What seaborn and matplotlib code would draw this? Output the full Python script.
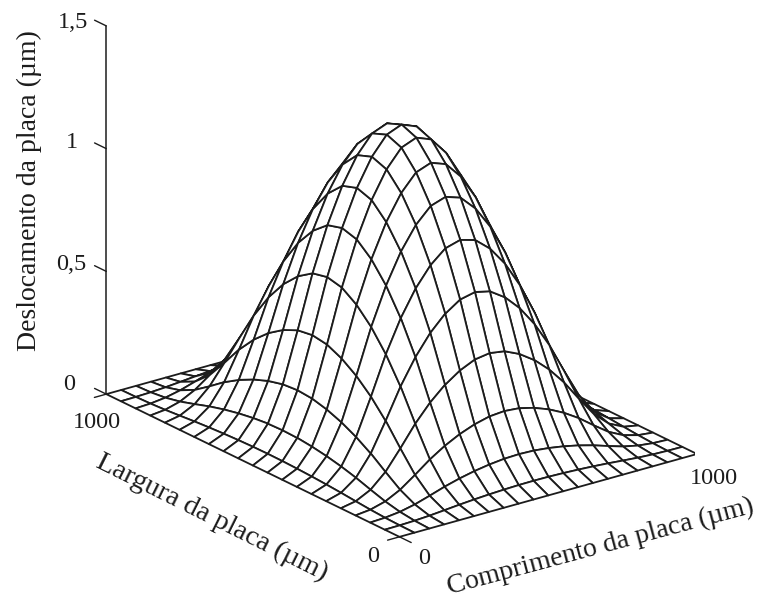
import numpy as np
import seaborn as sns
import matplotlib.pyplot as plt

# plate grid, 21 lines per side
comprimento = [0, 50, 100, 150, 200, 250, 300, 350, 400, 450, 500, 550, 600, 650, 700, 750, 800, 850, 900, 950, 1000]
largura = [0, 50, 100, 150, 200, 250, 300, 350, 400, 450, 500, 550, 600, 650, 700, 750, 800, 850, 900, 950, 1000]

# displacement profile read from the arc tops, relative to the peak
perfil_comprimento = [0, 0.025, 0.09, 0.21, 0.38, 0.56, 0.71, 0.83, 0.92, 0.98, 1, 0.98, 0.92, 0.83, 0.71, 0.56, 0.38, 0.21, 0.09, 0.025, 0]
perfil_largura = [0, 0.025, 0.09, 0.21, 0.38, 0.56, 0.71, 0.83, 0.92, 0.98, 1, 0.98, 0.92, 0.83, 0.71, 0.56, 0.38, 0.21, 0.09, 0.025, 0]
pico = 1.22

z_ticks = [0, 0.5, 1, 1.5]
z_labels = ["0", "0,5", "1", "1,5"]

sns.set_theme(style="white")
plt.rcParams['font.family'] = ['Liberation Serif', 'DejaVu Serif']

W, H = 763, 603
fig = plt.figure(figsize=(W / 100, H / 100), dpi=100)
ax = fig.add_axes([92 / W, 53.4 / H, 603 / W, 1.0], projection='3d', proj_type='ortho')
ax.set_box_aspect((373, 486, 396), zoom=1.1745)
ax.view_init(elev=21.6, azim=-127.1)
ax.set_xlim(0, 1000)
ax.set_ylim(0, 1000)
ax.set_zlim(0, 1.5)
ax.set_axis_off()

X, Y = np.meshgrid(comprimento, largura)
Z = pico * np.outer(perfil_largura, perfil_comprimento)
ax.plot_surface(X, Y, Z, rstride=1, cstride=1, color='white', edgecolor='#1c1c1c',
                linewidth=1.3, shade=False)

# z axis and its ticks
ax.plot([0, 0], [1000, 1000], [0, 1.5], color='#1c1c1c', lw=1.1)
for t in z_ticks:
    ax.plot([0, 0], [1000, 1040], [t, t], color='#1c1c1c', lw=1.0)
# ticks on the plate edges
ax.plot([0, -40], [1000, 1000], [0, 0], color='#1c1c1c', lw=1.0)
ax.plot([0, -40], [0, 0], [0, 0], color='#1c1c1c', lw=1.0)
ax.plot([0, 0], [0, -40], [0, 0], color='#1c1c1c', lw=1.0)
ax.plot([1000, 1000], [0, -40], [0, 0], color='#1c1c1c', lw=1.0)


def label(x, y, s, rot=0, size=17.5):
    fig.text(x / W, 1 - y / H, s, rotation=rot, rotation_mode='anchor', fontsize=size,
             ha='center', va='center', color='#1c1c1c')


for t, s, x, y in zip(z_ticks, z_labels, [69, 71, 72, 73], [384, 265, 143, 22]):
    label(x, y, s)
label(97, 422, "1000")
label(373, 557, "0")
label(424, 558, "0")
label(714, 478, "1000")
label(29, 191, "Deslocamento da placa (µm)", rot=90, size=20)
label(212, 518, "Largura da placa (µm)", rot=-26.5, size=20.5)
label(601, 547, "Comprimento da placa (µm)", rot=15, size=20)

fig.savefig("out.png", dpi=100)
